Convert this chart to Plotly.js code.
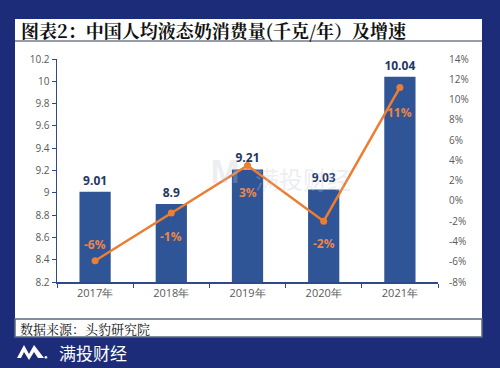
<!DOCTYPE html>
<html><head><meta charset="utf-8">
<script src="https://cdn.plot.ly/plotly-3.0.1.min.js"></script>
<style>html,body{margin:0;padding:0;background:#1d2c78;}#c{width:500px;height:368px;}</style>
</head><body><div id="c"></div>
<script>
const years = ['2017年','2018年','2019年','2020年','2021年'];
const consumption = [9.01, 8.9, 9.21, 9.03, 10.04];
const growth = [-5.9, -1.2, 3.5, -2.0, 11.2];
const growthLabels = ['-6%','-1%','3%','-2%','11%'];
const growthLabelShift = [16, -23, -27, -22, -25];
const leftTicks = [8.2,8.4,8.6,8.8,9,9.2,9.4,9.6,9.8,10,10.2];
const rightTicks = [-8,-6,-4,-2,0,2,4,6,8,10,12,14];

const gray = '#595959';
const px = x => (x-57)/381, py = y => (282-y)/223;
const data = [
  {type:'bar', x:years, y:consumption, marker:{color:'#2f5597'}, width:0.41,
   text:consumption.map(String), textposition:'outside', cliponaxis:false,
   textfont:{family:'Open Sans, sans-serif', size:12, color:'#1f3864', weight:'bold'}, hoverinfo:'skip'},
  {type:'scatter', mode:'lines+markers', x:years, y:growth, yaxis:'y2',
   line:{color:'#ed7d31', width:2.5}, marker:{color:'#ed7d31', size:7}, cliponaxis:false, hoverinfo:'skip'}
];
const growthAnn = years.map((yr,i)=>({x:yr, y:growth[i], xref:'x', yref:'y2', yshift:growthLabelShift[i], showarrow:false,
  text:'<b>'+growthLabels[i]+'</b>', font:{family:'Open Sans, sans-serif', size:12, color:'#e8874a'}}));
const layout = {
  width:500, height:368, paper_bgcolor:'#1d2c78', plot_bgcolor:'rgba(0,0,0,0)',
  margin:{l:57, r:62, t:59, b:86}, showlegend:false,
  font:{family:'Open Sans, sans-serif', color:gray},
  xaxis:{type:'category', showline:true, linecolor:'#2f4a8a', linewidth:1.5, ticks:'outside',
         tickson:'boundaries', ticklen:4, tickcolor:'#2f4a8a', tickfont:{size:11, color:gray, family:'Open Sans, sans-serif'},
         showgrid:false, zeroline:false},
  yaxis:{range:[8.2,10.2], tickvals:leftTicks, ticktext:leftTicks.map(String), showline:true, linecolor:'#2f4a8a', linewidth:1.5,
         ticks:'outside', ticklen:4, tickcolor:'#2f4a8a', showgrid:false, zeroline:false, tickfont:{size:10, color:gray}},
  yaxis2:{range:[-8,14], overlaying:'y', side:'right', tickvals:rightTicks, ticktext:rightTicks.map(v=>v+'%'),
          showline:false, showgrid:false, zeroline:false, ticks:'', tickfont:{size:10, color:gray}, ticklabelstandoff:10},
  shapes:[
    {type:'rect', xref:'paper', yref:'paper', x0:px(15), x1:px(482), y0:py(319), y1:py(19), fillcolor:'#ffffff', line:{width:0}, layer:'below'},
    {type:'line', xref:'paper', yref:'paper', x0:px(15), x1:px(482), y0:py(41), y1:py(41), line:{color:'#333a55', width:1.2}},
    {type:'rect', xref:'paper', yref:'paper', x0:px(15), x1:px(482), y0:py(337), y1:py(319), fillcolor:'#ffffff', line:{color:'#5a6a80', width:1.5}},
    {type:'path', xref:'paper', yref:'paper',
     path:`M ${px(17)} ${py(358)} L ${px(24)} ${py(345)} L ${px(29)} ${py(354)} L ${px(34)} ${py(345)} L ${px(44)} ${py(358)} L ${px(38)} ${py(358)} L ${px(34)} ${py(352)} L ${px(29)} ${py(360)} L ${px(24)} ${py(352)} L ${px(21)} ${py(358)} Z`,
     fillcolor:'#ffffff', line:{width:0}}
  ],
  annotations:[
    {xref:'paper', yref:'paper', x:px(19), y:py(30), xanchor:'left', yanchor:'middle', showarrow:false,
     text:'<b>图表2：中国人均液态奶消费量(千克/年）及增速</b>', font:{family:'Noto Serif CJK SC, Noto Sans CJK SC', size:18, color:'#111111'}},
    {xref:'paper', yref:'paper', x:px(18), y:py(328), xanchor:'left', yanchor:'middle', showarrow:false,
     text:'数据来源：头豹研究院', font:{family:'Noto Serif CJK SC, Noto Sans CJK SC', size:13, color:'#111111'}},
    {xref:'paper', yref:'paper', x:px(57), y:py(352), xanchor:'left', yanchor:'middle', showarrow:false,
     text:'满投财经', font:{family:'Noto Sans CJK SC', size:17, color:'#ffffff'}},
    {xref:'paper', yref:'paper', x:px(46), y:py(357), xanchor:'center', yanchor:'middle', showarrow:false,
     text:'●', font:{size:6, color:'#ffffff'}},
    {xref:'paper', yref:'paper', x:px(303), y:py(178), xanchor:'center', yanchor:'middle', showarrow:false,
     text:'满投财经', font:{family:'Noto Sans CJK SC', size:24, color:'rgba(190,195,210,0.3)'}},
    {xref:'paper', yref:'paper', x:px(225), y:py(170), xanchor:'center', yanchor:'middle', showarrow:false,
     text:'<b>M</b>', font:{family:'Open Sans', size:32, color:'rgba(190,195,210,0.3)'}},
    ...growthAnn
  ]
};
Plotly.newPlot('c', data, layout, {staticPlot:true, displayModeBar:false});
</script></body></html>
